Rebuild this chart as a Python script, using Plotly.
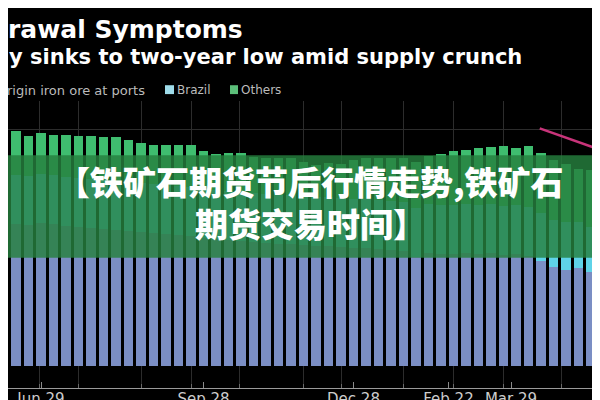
import plotly.graph_objects as go

# ---------------- data (million tonnes, weekly) ----------------
week_idx = list(range(48))

total = [119.4, 116.9, 118.2, 117.4, 117.4, 117.0, 117.0, 116.4, 116.0, 114.7,
         113.4, 112.0, 112.4, 112.4, 112.0, 109.4, 107.4, 108.0, 108.0, 106.0,
         105.7, 105.7, 105.7, 103.4, 102.0, 103.0, 102.7, 104.7, 105.7, 105.7,
         105.7, 105.4, 103.4, 106.4, 107.7, 109.0, 109.7, 110.7, 111.0, 111.7,
         110.7, 111.7, 108.0, 104.7, 102.7, 100.0, 99.7, 99.5]

australia = [72.0, 71.5, 72.5, 72.0, 71.0, 70.5, 70.0, 69.5, 69.0, 68.5,
             68.0, 67.5, 67.0, 66.5, 66.0, 65.0, 64.5, 64.0, 63.5, 63.0,
             62.5, 62.0, 62.0, 61.5, 61.0, 61.0, 60.5, 60.0, 60.0, 59.5,
             59.0, 58.5, 55.5, 57.5, 57.0, 57.0, 57.5, 57.0, 57.5, 56.5,
             57.0, 56.0, 53.5, 50.2, 49.0, 50.0, 47.7, 46.0]

brazil = [25.0, 25.0, 25.0, 25.0, 25.0, 25.0, 25.0, 25.0, 25.0, 25.0,
          25.0, 25.0, 25.0, 25.0, 25.0, 25.0, 25.0, 25.0, 25.0, 25.0,
          25.0, 25.0, 25.0, 25.0, 25.0, 25.0, 25.0, 25.0, 25.0, 25.0,
          25.0, 25.0, 25.0, 25.0, 25.0, 25.0, 25.0, 25.0, 25.0, 25.0,
          25.0, 25.0, 24.0, 24.0, 24.0, 23.0, 23.0, 23.0]

others = [round(t - a - b, 1) for t, a, b in zip(total, australia, brazil)]

line_x = [41.9, 43.0, 44.0, 45.0, 46.0, 47.0, 47.6]
line_y = [120.6, 118.2, 116.0, 113.9, 111.4, 109.2, 107.8]

tick_pos = [2.0, 15.0, 27.0, 34.6, 39.6]
tick_labels = ["Jun 29", "Sep 28", "Dec 28", "Feb 22", "Mar 29"]
grid_pos = [1.9, 5.0, 10.0, 14.0, 17.9, 23.0, 26.0, 31.0, 35.0, 39.0, 43.6, 47.2]

title_text = "rawal Symptoms"
subtitle_text = "y sinks to two-year low amid supply crunch"
legend_lead = "rigin iron ore at ports"
legend_items = ["Brazil", "Others"]
banner_line1 = "【铁矿石期货节后行情走势,铁矿石"
banner_line2 = "期货交易时间】"

# ---------------- styling ----------------
C_AUS = "#7b8ec4"
C_BRA = "#5fd3e8"
C_OTH = "#3fbd6f"
C_LINE = "#c8347a"
FONT = "DejaVu Sans"
CJK = "Noto Sans CJK SC"

PLOT_TOP, PLOT_BOT = 93, 384
H = PLOT_BOT - PLOT_TOP


def py(px):
    return (PLOT_BOT - px) / H


def pxx(px):
    return px / 600.0


fig = go.Figure()
fig.add_bar(x=week_idx, y=australia, marker_color=C_AUS, marker_line_width=0, name="Australia")
fig.add_bar(x=week_idx, y=brazil, marker_color=C_BRA, marker_line_width=0, name="Brazil")
fig.add_bar(x=week_idx, y=others, marker_color=C_OTH, marker_line_width=0, name="Others")
fig.add_scatter(x=line_x, y=line_y, mode="lines", line=dict(color=C_LINE, width=2.5),
                name="line", cliponaxis=True)

fig.update_layout(
    width=600, height=400,
    paper_bgcolor="black", plot_bgcolor="black",
    margin=dict(l=0, r=0, t=PLOT_TOP, b=400 - PLOT_BOT),
    barmode="stack", bargap=0.25, showlegend=False,
    font=dict(family=FONT, color="#cccccc"),
)
fig.update_xaxes(
    range=[-0.64, 47.36], showgrid=False, zeroline=False,
    showline=True, linecolor="#9a9a9a", linewidth=1,
    tickmode="array", tickvals=tick_pos, ticktext=tick_labels,
    ticks="inside", ticklen=6, tickcolor="#8a8a8a", ticklabelstandoff=-3,
    tickfont=dict(size=15, color="#cccccc", family=FONT),
    minor=dict(tickmode="array", tickvals=grid_pos, ticks="inside", ticklen=4,
               tickcolor="#6a6a6a", showgrid=True, gridcolor="#2c2c2c", gridwidth=1),
)
fig.update_yaxes(
    range=[-11, 134.5], showticklabels=False, zeroline=False,
    tickmode="array", tickvals=[120], showgrid=True, gridcolor="#2c2c2c", gridwidth=1,
)

# banner overlay
fig.add_shape(type="rect", xref="paper", yref="paper", x0=-0.01, x1=1.01,
              y0=py(252), y1=py(148), fillcolor="rgba(38,128,62,0.82)",
              line_width=0, layer="above")

ann = []
ann.append(dict(text="<b>%s</b>" % title_text, x=pxx(-2), y=py(21), xanchor="left", yanchor="middle",
                font=dict(size=25, color="white", family=FONT)))
ann.append(dict(text="<b>%s</b>" % subtitle_text, x=pxx(-1), y=py(48), xanchor="left", yanchor="middle",
                font=dict(size=21, color="white", family=FONT)))
ann.append(dict(text=legend_lead, x=pxx(-3), y=py(82), xanchor="left", yanchor="middle",
                font=dict(size=13, color="#bbbbbb", family=FONT)))
ann.append(dict(text=legend_items[0], x=pxx(167), y=py(82), xanchor="left", yanchor="middle",
                font=dict(size=12, color="#bbbbbb", family=FONT)))
ann.append(dict(text=legend_items[1], x=pxx(231), y=py(82), xanchor="left", yanchor="middle",
                font=dict(size=12, color="#bbbbbb", family=FONT)))
ann.append(dict(text=banner_line1, x=pxx(302), y=py(174), xanchor="center", yanchor="middle",
                font=dict(size=33, color="white", family=CJK, weight=900)))
ann.append(dict(text=banner_line2, x=pxx(302), y=py(217), xanchor="center", yanchor="middle",
                font=dict(size=33, color="white", family=CJK, weight=900)))
for a in ann:
    a.update(xref="paper", yref="paper", showarrow=False)
fig.update_layout(annotations=ann)

# legend squares
fig.add_shape(type="rect", xref="paper", yref="paper", x0=pxx(157), x1=pxx(166),
              y0=py(86), y1=py(77), fillcolor="#9fdcea", line_width=0)
fig.add_shape(type="rect", xref="paper", yref="paper", x0=pxx(222), x1=pxx(230),
              y0=py(86), y1=py(77), fillcolor="#5cbf7a", line_width=0)

fig.write_html("out.html")
